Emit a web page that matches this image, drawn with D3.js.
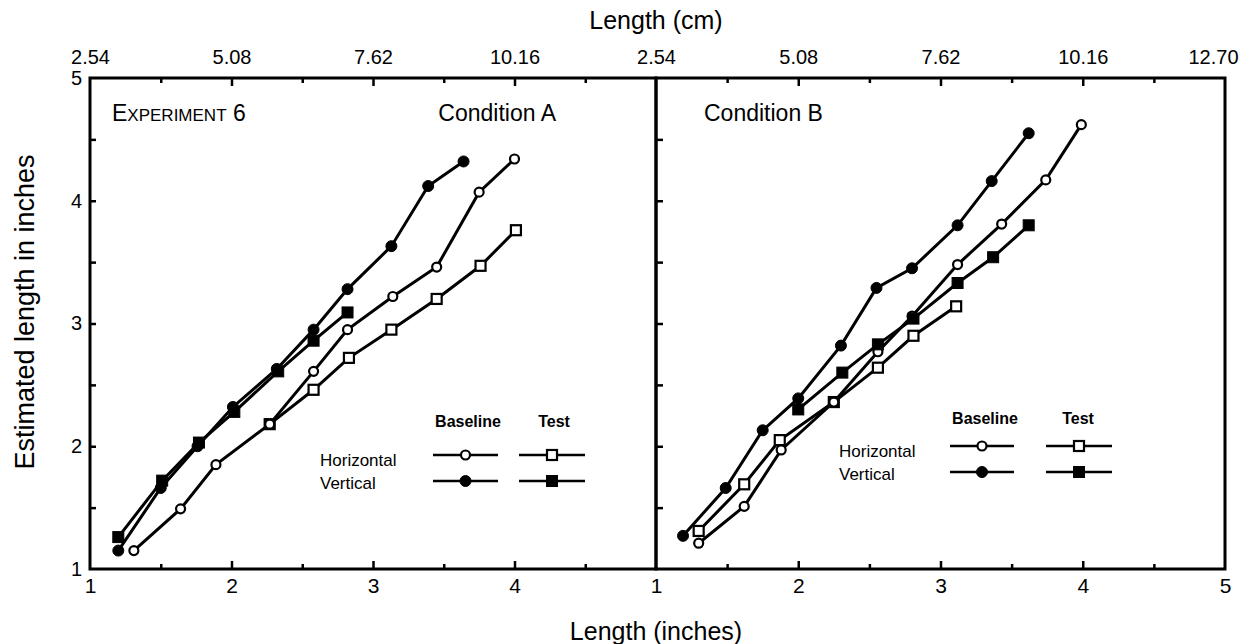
<!DOCTYPE html>
<html><head><meta charset="utf-8">
<script src="https://cdn.jsdelivr.net/npm/d3@7"></script>
<style>
html,body{margin:0;padding:0;background:#fff;}
svg{display:block;font-family:"Liberation Sans",Arial,Helvetica,sans-serif;}
</style></head>
<body><svg id="c" width="1246" height="644"></svg>
<script>
// ---- Data ----
// Condition A
const aHorizBaseX = [1.31,1.64,1.89,2.27,2.58,2.82,3.14,3.45,3.75,4.00];
const aHorizBaseY = [1.15,1.49,1.85,2.18,2.61,2.95,3.22,3.46,4.07,4.34];
const aVertBaseX  = [1.20,1.50,1.76,2.01,2.32,2.58,2.82,3.13,3.39,3.64];
const aVertBaseY  = [1.15,1.66,2.00,2.32,2.63,2.95,3.28,3.63,4.12,4.32];
const aHorizTestX = [2.27,2.58,2.83,3.13,3.45,3.76,4.01];
const aHorizTestY = [2.18,2.46,2.72,2.95,3.20,3.47,3.76];
const aVertTestX  = [1.20,1.51,1.77,2.02,2.33,2.58,2.82];
const aVertTestY  = [1.26,1.72,2.03,2.28,2.61,2.86,3.09];
// Condition B
const bHorizBaseX = [1.30,1.62,1.88,2.25,2.56,2.80,3.12,3.43,3.74,3.99];
const bHorizBaseY = [1.21,1.51,1.97,2.36,2.77,3.06,3.48,3.81,4.17,4.62];
const bVertBaseX  = [1.19,1.49,1.75,2.00,2.30,2.55,2.80,3.12,3.36,3.62];
const bVertBaseY  = [1.27,1.66,2.13,2.39,2.82,3.29,3.45,3.80,4.16,4.55];
const bHorizTestX = [1.30,1.62,1.87,2.25,2.56,2.81,3.11];
const bHorizTestY = [1.31,1.69,2.05,2.36,2.64,2.90,3.14];
const bVertTestX  = [2.00,2.31,2.56,2.81,3.12,3.37,3.62];
const bVertTestY  = [2.30,2.60,2.83,3.04,3.33,3.54,3.80];
// Tick labels
const inchTicksLeft  = [1,2,3,4];
const inchTicksRight = [1,2,3,4,5];
const yTicks = [1,2,3,4,5];
const cmTicksLeft  = [2.54,5.08,7.62,10.16];
const cmTicksRight = [2.54,5.08,7.62,10.16,12.70];
const cmLabel = d => d.toFixed(2);
const legendRows = ["Horizontal","Vertical"];
const legendCols = ["Baseline","Test"];

// ---- Drawing ----
const svg = d3.select("#c");
const FONT = "'Liberation Sans',Arial,Helvetica,sans-serif";
const intFmt = d3.format("d");

const panels = [
  {x:d3.scaleLinear([1,5],[90,656]), y:d3.scaleLinear([1,5],[569,78]),
   cm:d3.scaleLinear([2.54,12.70],[90,656]), inchTicks:inchTicksLeft, cmTicks:cmTicksLeft,
   series:[
     {x:aHorizTestX,y:aHorizTestY,shape:"square",fill:false},
     {x:aHorizBaseX,y:aHorizBaseY,shape:"circle",fill:false},
     {x:aVertTestX,y:aVertTestY,shape:"square",fill:true},
     {x:aVertBaseX,y:aVertBaseY,shape:"circle",fill:true}],
   legend:{cols:[468,554],colY:421,rowX:320,rowY:[455,481],base:[433,498],test:[519,585]},
   leftLabels:true},
  {x:d3.scaleLinear([1,5],[656,1225]), y:d3.scaleLinear([1,5],[569,78]),
   cm:d3.scaleLinear([2.54,12.70],[656,1225]), inchTicks:inchTicksRight, cmTicks:cmTicksRight,
   series:[
     {x:bHorizTestX,y:bHorizTestY,shape:"square",fill:false},
     {x:bHorizBaseX,y:bHorizBaseY,shape:"circle",fill:false},
     {x:bVertTestX,y:bVertTestY,shape:"square",fill:true},
     {x:bVertBaseX,y:bVertBaseY,shape:"circle",fill:true}],
   legend:{cols:[985,1078],colY:418,rowX:839,rowY:[446,472],base:[950,1014],test:[1046,1112]},
   leftLabels:false}
];

const halfSteps = d3.range(1.5,5,0.5);
panels.forEach((p,i)=>{
  const [x0,x1]=p.x.range(), [yb,yt]=p.y.range();
  const g = svg.append("g");
  // frame
  g.append("path").attr("d",`M${x0},${yb}V${yt}H${x1}V${yb}Z`)
    .attr("fill","none").attr("stroke","#000").attr("stroke-width",3);
  // bottom axis ticks (inward)
  const bx = g.append("g").attr("transform",`translate(0,${yb})`)
    .call(d3.axisTop(p.x).tickValues(halfSteps.filter(v=>v%1!==0)).tickSize(5).tickFormat(""));
  const bx2 = g.append("g").attr("transform",`translate(0,${yb})`)
    .call(d3.axisTop(p.x).tickValues([2,3,4]).tickSize(8).tickFormat(""));
  [bx,bx2].forEach(a=>{a.select(".domain").remove(); a.selectAll("line").attr("stroke-width",2.5);});
  // bottom labels
  const bl = g.append("g").attr("transform",`translate(0,${yb})`)
    .call(d3.axisBottom(p.x).tickValues(p.inchTicks).tickSize(0).tickPadding(9).tickFormat(intFmt));
  bl.select(".domain").remove();
  bl.selectAll("text").attr("font-size",21).attr("font-family",FONT).attr("fill","#000");
  // left axis ticks (inward)
  const ly = g.append("g").attr("transform",`translate(${x0},0)`)
    .call(d3.axisRight(p.y).tickValues(halfSteps).tickSize(i===0?6:7).tickFormat(""));
  ly.select(".domain").remove(); ly.selectAll("line").attr("stroke-width",2.5);
  if(p.leftLabels){
    const yl = g.append("g").attr("transform",`translate(${x0},0)`)
      .call(d3.axisLeft(p.y).tickValues(yTicks).tickSize(0).tickPadding(8).tickFormat(intFmt));
    yl.select(".domain").remove();
    yl.selectAll("text").attr("font-size",20).attr("font-family",FONT).attr("fill","#000");
  }
  // top cm axis: minor & major ticks inward, labels above
  const cmAll = d3.range(0,9).map(k=>2.54+k*1.27);
  const tMinor = g.append("g").attr("transform",`translate(0,${yt})`)
    .call(d3.axisTop(p.cm).tickValues(cmAll.filter((v,k)=>k%2===1)).tickSizeInner(-5).tickSizeOuter(0).tickFormat(""));
  const tMajor = g.append("g").attr("transform",`translate(0,${yt})`)
    .call(d3.axisTop(p.cm).tickValues(cmAll.filter((v,k)=>k%2===0 && k>0 && k<8)).tickSizeInner(-8).tickSizeOuter(0).tickFormat(""));
  [tMinor,tMajor].forEach(a=>{a.select(".domain").remove(); a.selectAll("line").attr("stroke-width",2.5);});
  const tl = g.append("g").attr("transform",`translate(0,${yt})`)
    .call(d3.axisTop(p.cm).tickValues(p.cmTicks).tickSize(0).tickPadding(14).tickFormat(cmLabel));
  tl.select(".domain").remove();
  tl.selectAll("text").attr("font-size",20).attr("font-family",FONT).attr("fill","#000")
    .attr("dx",d=>d>12?-12:0);

  // series
  const line = d3.line().x(d=>p.x(d[0])).y(d=>p.y(d[1]));
  p.series.forEach(s=>{
    const pts = s.x.map((v,k)=>[v,s.y[k]]);
    g.append("path").attr("d",line(pts)).attr("fill","none").attr("stroke","#000").attr("stroke-width",3);
  });
  p.series.forEach(s=>{
    const pts = s.x.map((v,k)=>[v,s.y[k]]);
    drawMarkers(g, pts.map(d=>[p.x(d[0]),p.y(d[1])]), s.shape, s.fill);
  });

  // legend
  const L = p.legend;
  legendCols.forEach((c,k)=>g.append("text").attr("x",L.cols[k]).attr("y",L.colY).attr("dy","0.35em")
    .attr("text-anchor","middle").attr("font-size",16).attr("font-weight","bold").attr("font-family",FONT).text(c));
  legendRows.forEach((r,k)=>g.append("text").attr("x",L.rowX).attr("y",L.rowY[k]+ (k===0?5:2)).attr("dy","0.35em")
    .attr("font-size",17).attr("font-family",FONT).text(r));
  legendRows.forEach((r,k)=>{
    [[L.base,"circle"],[L.test,"square"]].forEach(([seg,shape])=>{
      g.append("line").attr("x1",seg[0]).attr("x2",seg[1]).attr("y1",L.rowY[k]).attr("y2",L.rowY[k])
        .attr("stroke","#000").attr("stroke-width",2.5);
      drawMarkers(g,[[(seg[0]+seg[1])/2,L.rowY[k]]],shape,k===1);
    });
  });
});

function drawMarkers(g, pts, shape, filled){
  pts.forEach(([cx,cy])=>{
    if(shape==="circle"){
      g.append("circle").attr("cx",cx).attr("cy",cy).attr("r",filled?5.5:4.5)
        .attr("fill",filled?"#000":"#fff").attr("stroke","#000").attr("stroke-width",filled?1:2.2);
    } else {
      const s = filled?11:10;
      g.append("rect").attr("x",cx-s/2).attr("y",cy-s/2).attr("width",s).attr("height",s)
        .attr("fill",filled?"#000":"#fff").attr("stroke","#000").attr("stroke-width",filled?1:2.2);
    }
  });
}

// panel titles
const t1 = svg.append("text").attr("x",112).attr("y",121).attr("font-family",FONT).attr("font-size",23);
t1.append("tspan").text("E");
t1.append("tspan").attr("font-size",17).text("XPERIMENT");
t1.append("tspan").text(" 6");
svg.append("text").attr("x",556).attr("y",121).attr("text-anchor","end").attr("font-family",FONT).attr("font-size",23).text("Condition A");
svg.append("text").attr("x",704).attr("y",121).attr("font-family",FONT).attr("font-size",23).text("Condition B");

// axis titles
svg.append("text").attr("x",656).attr("y",29).attr("text-anchor","middle").attr("font-family",FONT).attr("font-size",25).text("Length (cm)");
svg.append("text").attr("x",656).attr("y",640).attr("text-anchor","middle").attr("font-family",FONT).attr("font-size",25).text("Length (inches)");
svg.append("text").attr("transform","translate(34,312) rotate(-90)").attr("text-anchor","middle").attr("font-family",FONT).attr("font-size",27).text("Estimated length in inches");
</script></body></html>
